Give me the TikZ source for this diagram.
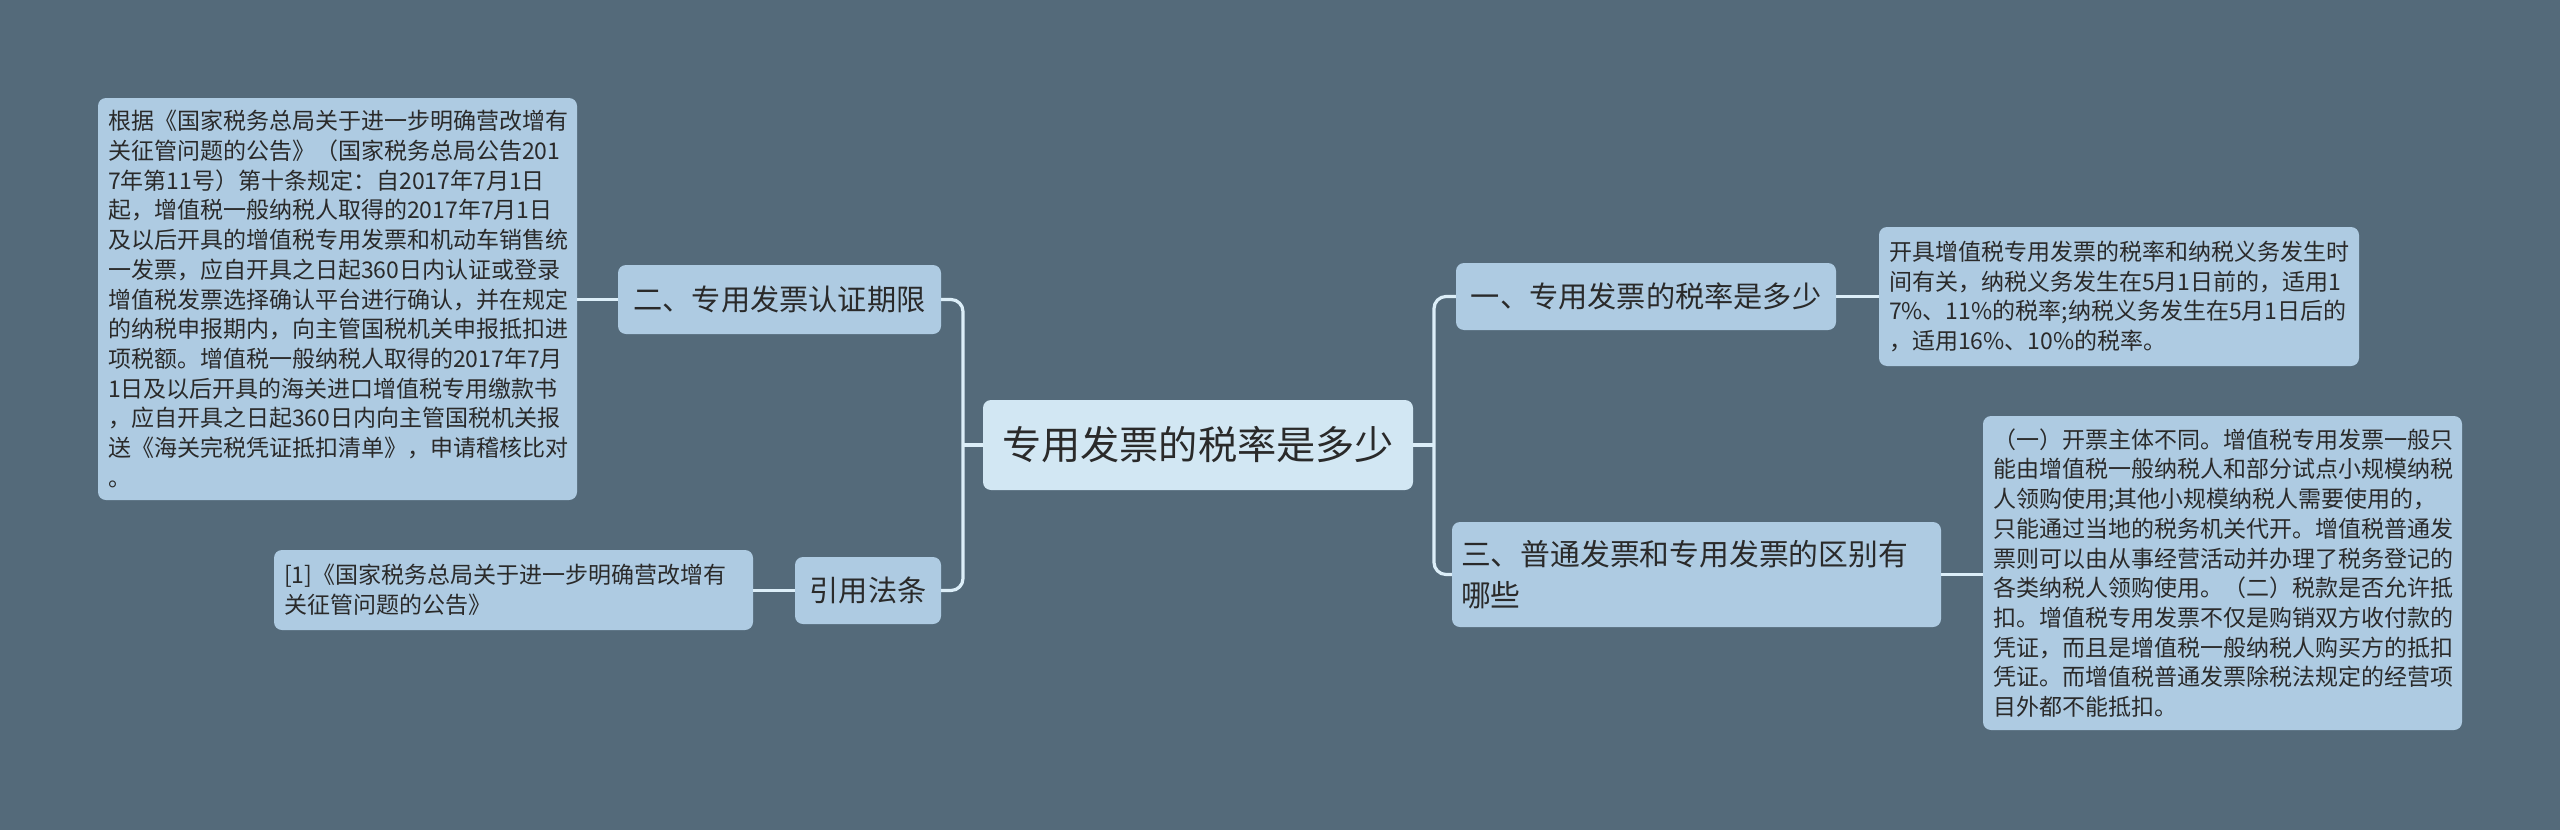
\documentclass[tikz,border=0pt]{standalone}
\usepackage{fontspec}
\setmainfont{Noto Sans CJK SC}
\definecolor{bgc}{HTML}{546A7A}
\definecolor{rootfill}{HTML}{D2E7F3}
\definecolor{nodefill}{HTML}{AECBE2}
\definecolor{linec}{HTML}{DCEEF8}
\definecolor{txt}{HTML}{2A2A2A}
\tikzset{
  basebox/.style={rounded corners=8pt, fill=nodefill, text=txt, inner ysep=0pt},
  rootbox/.style={basebox, fill=rootfill, align=center, inner xsep=0pt,
    font=\fontsize{39.2}{44}\selectfont},
  midbox/.style={basebox, align=center, inner xsep=0pt,
    font=\fontsize{29.2}{41}\selectfont},
  leafbox/.style={basebox, align=left, inner xsep=10pt,
    font=\fontsize{23}{29.7}\selectfont},
  conn/.style={draw=linec, line width=3.2pt, rounded corners=12pt}
}
\begin{document}
\begin{tikzpicture}[x=1pt,y=-1pt]
\fill[bgc] (0,0) rectangle (2560,830);
\useasboundingbox (0,0) rectangle (2560,830);

\node[rootbox, minimum width=430pt, minimum height=90pt] (root) at (1198,445) {专用发票的税率是多少};

\node[midbox, minimum width=323pt, minimum height=69pt] (n2) at (779.5,299.5) {二、专用发票认证期限};
\node[midbox, minimum width=146pt, minimum height=67pt] (cite) at (868,590.5) {引用法条};
\node[midbox, minimum width=380pt, minimum height=67pt] (n1) at (1646,296.5) {一、专用发票的税率是多少};
\node[midbox, font=\fontsize{29.8}{41}\selectfont, align=left, inner xsep=9pt, text width=471pt, minimum height=105pt] (n3) at (1696.5,574.5) {三、普通发票和专用发票的区别有\\哪些};

\node[leafbox, text width=459pt, minimum height=402pt] (lbox) at (337.5,299) {根据《国家税务总局关于进一步明确营改增有\\关征管问题的公告》（国家税务总局公告201\\7年第11号）第十条规定：自2017年7月1日\\起，增值税一般纳税人取得的2017年7月1日\\及以后开具的增值税专用发票和机动车销售统\\一发票，应自开具之日起360日内认证或登录\\增值税发票选择确认平台进行确认，并在规定\\的纳税申报期内，向主管国税机关申报抵扣进\\项税额。增值税一般纳税人取得的2017年7月\\1日及以后开具的海关进口增值税专用缴款书\\，应自开具之日起360日内向主管国税机关报\\送《海关完税凭证抵扣清单》，申请稽核比对\\。};

\node[leafbox, text width=459pt, minimum height=80pt] (citebox) at (513.5,590) {[1]《国家税务总局关于进一步明确营改增有\\关征管问题的公告》};

\node[leafbox, text width=460pt, minimum height=139pt] (rtbox) at (2119,296.5) {开具增值税专用发票的税率和纳税义务发生时\\间有关，纳税义务发生在5月1日前的，适用1\\7\%、11\%的税率;纳税义务发生在5月1日后的\\，适用16\%、10\%的税率。};

\node[leafbox, text width=459pt, minimum height=314pt] (rbbox) at (2222.5,573) {（一）开票主体不同。增值税专用发票一般只\\能由增值税一般纳税人和部分试点小规模纳税\\人领购使用;其他小规模纳税人需要使用的，\\只能通过当地的税务机关代开。增值税普通发\\票则可以由从事经营活动并办理了税务登记的\\各类纳税人领购使用。（二）税款是否允许抵\\扣。增值税专用发票不仅是购销双方收付款的\\凭证，而且是增值税一般纳税人购买方的抵扣\\凭证。而增值税普通发票除税法规定的经营项\\目外都不能抵扣。};

\coordinate (ls) at (963,445);
\coordinate (rs) at (1434,445);

\draw[conn] (root.west) -- (ls);
\draw[conn] (n2.east) -| (ls) |- (cite.east);
\draw[conn] (root.east) -- (rs);
\draw[conn] (n1.west) -| (rs) |- (n3.west);

\draw[conn] (n2.west) -- (lbox.east |- n2.west);
\draw[conn] (cite.west) -- (citebox.east |- cite.west);
\draw[conn] (n1.east) -- (rtbox.west |- n1.east);
\draw[conn] (n3.east) -- (rbbox.west |- n3.east);
\end{tikzpicture}
\end{document}
